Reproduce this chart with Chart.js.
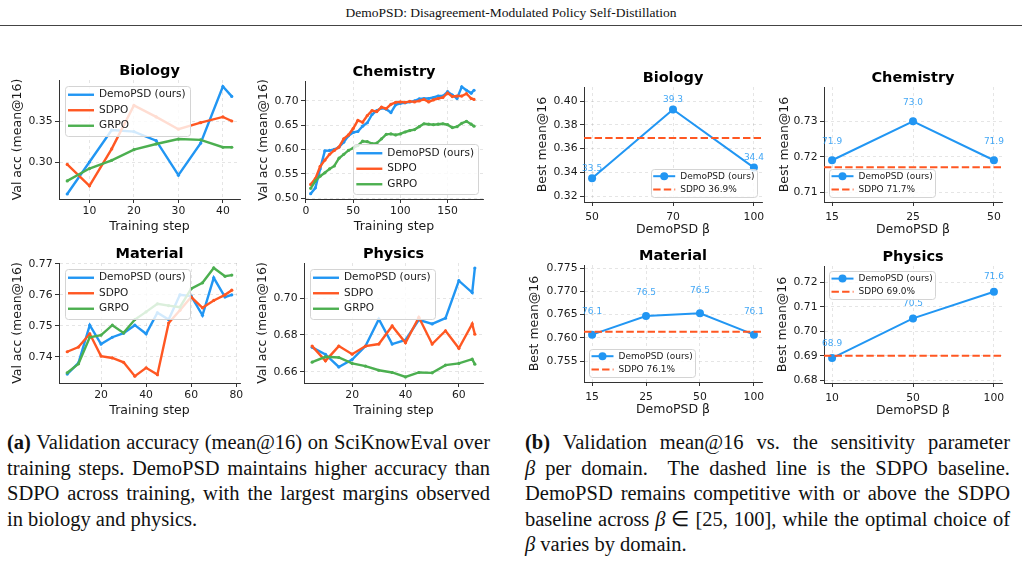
<!DOCTYPE html>
<html>
<head>
<meta charset="utf-8">
<script src="https://cdn.jsdelivr.net/npm/chart.js@4.4.1/dist/chart.umd.min.js"></script>
<style>
  html, body { margin: 0; padding: 0; background: #fff; }
  body { width: 1022px; height: 570px; position: relative; overflow: hidden; }
  canvas { position: absolute; }
  #hdr { position: absolute; left: 0; top: 5px; width: 1022px; text-align: center;
         font-family: "Liberation Serif", serif; font-size: 13.5px; color: #111; }
  #rule { position: absolute; left: 0; top: 25px; width: 1022px; height: 0; border-top: 0.8px solid #444; }
  .cap { position: absolute; top: 430px; font-family: "Liberation Serif", serif; font-size: 20.5px;
         line-height: 25.5px; color: #111; }
  .cap div { text-align: justify; text-align-last: justify; }
  .cap div.last { text-align-last: left; }
</style>
</head>
<body>
<div id="hdr">DemoPSD: Disagreement-Modulated Policy Self-Distillation</div>
<div id="rule"></div>

<div class="cap" style="left:7px;width:483px">
  <div><b>(a)</b> Validation accuracy (mean@16) on SciKnowEval over</div>
  <div>training steps. DemoPSD maintains higher accuracy than</div>
  <div>SDPO across training, with the largest margins observed</div>
  <div class="last">in biology and physics.</div>
</div>
<div class="cap" style="left:525px;width:485px">
  <div><b>(b)</b> Validation mean@16 vs. the sensitivity parameter</div>
  <div><i>β</i> per domain.&nbsp; The dashed line is the SDPO baseline.</div>
  <div>DemoPSD remains competitive with or above the SDPO</div>
  <div>baseline across <i>β</i> ∈ [25, 100], while the optimal choice of</div>
  <div class="last"><i>β</i> varies by domain.</div>
</div>

<script>
// ---- (a) validation accuracy vs training step ----
const bioSteps = [5, 10, 15, 20, 25, 30, 35, 40, 42];
const bioDemo  = [0.261, 0.300, 0.339, 0.337, 0.326, 0.284, 0.323, 0.392, 0.380];
const bioSdpo  = [0.297, 0.271, 0.316, 0.369, 0.355, 0.340, 0.348, 0.355, 0.350];
const bioGrpo  = [0.277, 0.292, 0.302, 0.315, 0.322, 0.328, 0.327, 0.318, 0.318];

const chemSteps = [5, 10, 15, 20, 25, 30, 35, 40, 45, 50, 55, 60, 65, 70, 75, 80, 85, 90,
                   95, 100, 105, 110, 115, 120, 125, 130, 135, 140, 145, 150, 155, 160, 165, 170, 175, 178];
const chemDemo = [0.509, 0.521, 0.560, 0.597, 0.598, 0.600, 0.605, 0.615, 0.628, 0.635, 0.637, 0.648,
                  0.655, 0.672, 0.680, 0.685, 0.683, 0.676, 0.692, 0.695, 0.696, 0.698, 0.700, 0.704,
                  0.705, 0.705, 0.707, 0.710, 0.710, 0.719, 0.712, 0.705, 0.729, 0.722, 0.716, 0.722];
const chemSdpo = [0.528, 0.540, 0.565, 0.578, 0.590, 0.598, 0.605, 0.622, 0.630, 0.643, 0.660, 0.656,
                  0.670, 0.680, 0.678, 0.687, 0.684, 0.693, 0.697, 0.698, 0.697, 0.699, 0.698, 0.700,
                  0.703, 0.698, 0.702, 0.705, 0.707, 0.716, 0.709, 0.710, 0.710, 0.715, 0.705, 0.703];
const chemGrpo = [0.520, 0.535, 0.545, 0.552, 0.560, 0.566, 0.582, 0.590, 0.598, 0.603, 0.608, 0.617,
                  0.616, 0.612, 0.613, 0.622, 0.631, 0.632, 0.630, 0.632, 0.636, 0.639, 0.641, 0.647,
                  0.653, 0.652, 0.651, 0.652, 0.653, 0.651, 0.645, 0.647, 0.654, 0.658, 0.652, 0.648];

const matSteps = [5, 10, 15, 20, 25, 30, 35, 40, 45, 50, 55, 60, 65, 70, 75, 78];
const matDemo  = [0.7344, 0.7380, 0.7502, 0.7441, 0.7463, 0.7476, 0.7502, 0.7474,
                  0.7542, 0.7520, 0.7600, 0.7596, 0.7534, 0.7655, 0.7593, 0.7600];
const matSdpo  = [0.7416, 0.7431, 0.7474, 0.7402, 0.7396, 0.7382, 0.7337, 0.7364,
                  0.7342, 0.7509, 0.7550, 0.7593, 0.7558, 0.7582, 0.7600, 0.7615];
const matGrpo  = [0.7348, 0.7377, 0.7463, 0.7470, 0.7502, 0.7477, 0.7520, 0.7545,
                  0.7571, 0.7565, 0.7560, 0.7620, 0.7639, 0.7687, 0.7660, 0.7664];

const phySteps = [5, 10, 15, 20, 25, 30, 35, 40, 45, 50, 55, 60, 65, 66];
const phyDemo  = [0.6733, 0.6695, 0.6627, 0.6667, 0.6740, 0.6886, 0.6751, 0.6773,
                  0.6882, 0.6860, 0.6891, 0.7094, 0.7030, 0.7163];
const phySdpo  = [0.6740, 0.6660, 0.6740, 0.6696, 0.6740, 0.6751, 0.6849, 0.6758,
                  0.6896, 0.6751, 0.6823, 0.6728, 0.6860, 0.6804];
const phyGrpo  = [0.6653, 0.6682, 0.6678, 0.6646, 0.6631, 0.6609, 0.6597, 0.6573,
                  0.6597, 0.6595, 0.6637, 0.6646, 0.6669, 0.6642];

// ---- (b) best mean@16 vs beta ----
const bioBetas = ['50', '70', '100'];
const bioBest  = [0.335, 0.393, 0.344];
const bioBase  = 0.369;
const chemBetas = ['15', '25', '50'];
const chemBest  = [0.719, 0.730, 0.719];
const chemBase  = 0.717;
const matBetas = ['15', '25', '50', '100'];
const matBest  = [0.7607, 0.7647, 0.7653, 0.7607];
const matBase  = 0.7613;
const phyBetas = ['10', '50', '100'];
const phyBest  = [0.6891, 0.7053, 0.7162];
const phyBase  = 0.690;

// tick values
const bioXTicks = [10, 20, 30, 40],  bioYTicks = [0.30, 0.35];
const chemXTicks = [0, 50, 100, 150], chemYTicks = [0.50, 0.55, 0.60, 0.65, 0.70];
const matXTicks = [20, 40, 60, 80],  matYTicks = [0.74, 0.75, 0.76, 0.77];
const phyXTicks = [20, 40, 60],      phyYTicks = [0.66, 0.68, 0.70];
const bioBYTicks = [0.32, 0.34, 0.36, 0.38, 0.40];
const chemBYTicks = [0.71, 0.72, 0.73];
const matBYTicks = [0.755, 0.760, 0.765, 0.770, 0.775];
const phyBYTicks = [0.68, 0.69, 0.70, 0.71, 0.72];

const FONT = '"DejaVu Sans", sans-serif';
const BLUE = '#2196F3', ORANGE = '#FF5722', GREEN = '#4CAF50';
const TXT = '#1a1a1a', AX = '#333333', GRID = 'rgba(0,0,0,0.13)';
const YW = 60, XH = 42, PR = 14, TH = 19;

// matplotlib-like legend box inside the axes
const boxLegend = {
  id: 'boxLegend',
  afterDatasetsDraw(chart, args, o) {
    if (!o.at) return;
    const a = chart.chartArea, ctx = chart.ctx, ds = chart.data.datasets;
    ctx.save();
    ctx.font = o.size + 'px ' + FONT;
    const tw = Math.max(...ds.map(d => ctx.measureText(d.label).width));
    const w = 2 * o.padX + o.handle + o.gap + tw;
    const h = 2 * o.padY + ds.length * o.row;
    const x = o.at[1] === 'l' ? a.left + o.off : a.right - o.off - w;
    const y = o.at[0] === 'u' ? a.top + o.off : a.bottom - o.off - h;
    ctx.beginPath();
    ctx.roundRect(Math.round(x) + 0.5, Math.round(y) + 0.5, Math.round(w), Math.round(h), 3);
    ctx.fillStyle = 'rgba(255,255,255,0.8)';
    ctx.fill();
    ctx.lineWidth = 1;
    ctx.strokeStyle = '#d4d4d4';
    ctx.stroke();
    ds.forEach((d, i) => {
      const cy = y + o.padY + o.row * (i + 0.5), hx = x + o.padX;
      ctx.beginPath();
      ctx.moveTo(hx, cy);
      ctx.lineTo(hx + o.handle, cy);
      ctx.setLineDash(d.borderDash || []);
      ctx.lineWidth = d.borderWidth;
      ctx.strokeStyle = d.borderColor;
      ctx.stroke();
      ctx.setLineDash([]);
      if (d.pointRadius > 2) {
        ctx.beginPath();
        ctx.arc(hx + o.handle / 2, cy, d.pointRadius, 0, Math.PI * 2);
        ctx.fillStyle = d.borderColor;
        ctx.fill();
      }
      ctx.fillStyle = TXT;
      ctx.textBaseline = 'middle';
      ctx.textAlign = 'left';
      ctx.fillText(d.label, hx + o.handle + o.gap, cy);
    });
    ctx.restore();
  }
};

// value labels above the beta points
const pointLabels = {
  id: 'pointLabels',
  afterDatasetsDraw(chart, args, o) {
    if (!o.dy) return;
    const ctx = chart.ctx, meta = chart.getDatasetMeta(0), vals = chart.data.datasets[0].data;
    ctx.save();
    ctx.font = '9px ' + FONT;
    ctx.fillStyle = 'rgba(33,150,243,0.85)';
    ctx.textAlign = 'center';
    ctx.textBaseline = 'middle';
    meta.data.forEach((p, i) => ctx.fillText((vals[i].y * 100).toFixed(1), p.x, p.y - o.dy));
    ctx.restore();
  }
};

function series(label, xs, ys, color, order) {
  return {
    label, order, data: xs.map((x, i) => ({x, y: ys[i]})),
    borderColor: color, backgroundColor: color, borderWidth: 2.4,
    pointRadius: 1.6, pointBorderWidth: 0, pointHoverRadius: 0, tension: 0
  };
}

function betaSeries(vals, base, xMin, xMax) {
  return [
    { label: 'DemoPSD (ours)', order: 2, data: vals.map((v, i) => ({x: i, y: v})),
      borderColor: BLUE, backgroundColor: BLUE, borderWidth: 2,
      pointRadius: 4, pointBorderWidth: 0, pointHoverRadius: 0, tension: 0 },
    { label: 'SDPO ' + (base * 100).toFixed(1) + '%', order: 1,
      data: [{x: xMin, y: base}, {x: xMax, y: base}],
      borderColor: ORANGE, borderWidth: 2, borderDash: [7.4, 3.2], pointRadius: 0, tension: 0 }
  ];
}

function makeChart(area, o) {
  const [l, t, r, b] = area;
  const cv = document.createElement('canvas');
  cv.width = r - l + YW + PR;
  cv.height = b - t + TH + XH;
  cv.style.left = (l - YW) + 'px';
  cv.style.top = (t - TH) + 'px';
  document.body.appendChild(cv);
  const grid = { color: GRID, lineWidth: 0.8, tickLength: 4, tickColor: AX, tickWidth: 1 };
  const border = { color: AX, width: 1, dash: [3, 3] };
  const tickFont = { family: FONT, size: 10.8 };
  const titleFont = { family: FONT, size: 12.5 };
  return new Chart(cv, {
    type: 'line',
    data: { datasets: o.datasets },
    plugins: [pointLabels, boxLegend],
    options: {
      responsive: false, animation: false, events: [],
      layout: { padding: { left: 0, right: PR, top: 0, bottom: 0 } },
      plugins: {
        legend: { display: false },
        tooltip: { enabled: false },
        title: { display: true, text: o.title, fullSize: false, color: '#000',
                 font: { family: FONT, size: 14.5, weight: 'bold' }, padding: { top: 1.6, bottom: 0 } },
        boxLegend: o.legend,
        pointLabels: o.labels || {}
      },
      scales: {
        x: {
          type: 'linear', min: o.xMin, max: o.xMax,
          afterFit: s => { s.height = XH; },
          afterBuildTicks: s => { s.ticks = o.xTicks.map(v => ({value: v})); },
          ticks: { callback: o.xFmt, font: tickFont, color: TXT, padding: o.xPad,
                   maxRotation: 0, autoSkip: false },
          grid, border,
          title: { display: true, text: o.xTitle, font: titleFont, color: TXT,
                   padding: { top: 0, bottom: XH - 28 - 7.5 } }
        },
        y: {
          type: 'linear', min: o.yMin, max: o.yMax,
          afterFit: s => { s.width = YW; },
          afterBuildTicks: s => { s.ticks = o.yTicks.map(v => ({value: v})); },
          ticks: { callback: v => v.toFixed(o.yDec), font: tickFont, color: TXT, padding: 2.5, autoSkip: false },
          grid, border,
          title: { display: true, text: o.yTitle, font: titleFont, color: TXT,
                   padding: { top: YW - o.yOff - 7.5, bottom: 0 } }
        }
      }
    }
  });
}

const legA = (at) => ({ at, size: 10.5, padX: 3.5, padY: 1.5, row: 15.5, handle: 26, gap: 5, off: 5.5 });
const legB = (at) => ({ at, size: 9, padX: 2.5, padY: 1, row: 13.2, handle: 22, gap: 5, off: 5 });
const num = v => String(v);

function trio(xs, d, s, g) {
  return [series('DemoPSD (ours)', xs, d, BLUE, 3), series('SDPO', xs, s, ORANGE, 2), series('GRPO', xs, g, GREEN, 1)];
}

// (a) panels
makeChart([59, 80, 240, 199], {
  title: 'Biology', datasets: trio(bioSteps, bioDemo, bioSdpo, bioGrpo),
  xMin: 3.15, xMax: 43.85, yMin: 0.2549, yMax: 0.40, xTicks: bioXTicks, yTicks: bioYTicks,
  xFmt: num, yDec: 2, xPad: 2, yOff: 41,
  xTitle: 'Training step', yTitle: 'Val acc (mean@16)', legend: legA('ul')
});
makeChart([305, 81, 483, 199], {
  title: 'Chemistry', datasets: trio(chemSteps, chemDemo, chemSdpo, chemGrpo),
  xMin: -1, xMax: 187.5, yMin: 0.498, yMax: 0.741, xTicks: chemXTicks, yTicks: chemYTicks,
  xFmt: num, yDec: 2, xPad: 2, yOff: 41.5,
  xTitle: 'Training step', yTitle: 'Val acc (mean@16)', legend: legA('lr')
});
makeChart([59, 263, 240, 383], {
  title: 'Material', datasets: trio(matSteps, matDemo, matSdpo, matGrpo),
  xMin: 1.35, xMax: 81.65, yMin: 0.7315, yMax: 0.7703, xTicks: matXTicks, yTicks: matYTicks,
  xFmt: num, yDec: 2, xPad: 2, yOff: 41,
  xTitle: 'Training step', yTitle: 'Val acc (mean@16)', legend: legA('ul')
});
makeChart([304, 263, 483, 383], {
  title: 'Physics', datasets: trio(phySteps, phyDemo, phySdpo, phyGrpo),
  xMin: 1.95, xMax: 69.05, yMin: 0.654, yMax: 0.719, xTicks: phyXTicks, yTicks: phyYTicks,
  xFmt: num, yDec: 2, xPad: 2, yOff: 41,
  xTitle: 'Training step', yTitle: 'Val acc (mean@16)', legend: legA('ul')
});

// (b) panels
function betaChart(area, title, betas, best, base, yMin, yMax, yTicks, yDec, yOff, at, dy) {
  const xMin = -0.05 * (betas.length - 1), xMax = (betas.length - 1) * 1.05;
  makeChart(area, {
    title, datasets: betaSeries(best, base, xMin, xMax),
    xMin, xMax, yMin, yMax, xTicks: betas.map((_, i) => i), yTicks,
    xFmt: v => betas[v], yDec, xPad: 4.4, yOff,
    xTitle: 'DemoPSD β', yTitle: 'Best mean@16', legend: legB(at), labels: { dy }
  });
}
betaChart([584, 87, 762, 202], 'Biology', bioBetas, bioBest, bioBase, 0.315, 0.412, bioBYTicks, 2, 41, 'lr', 10);
betaChart([824, 87, 1002, 202], 'Chemistry', chemBetas, chemBest, chemBase, 0.7072, 0.7397, chemBYTicks, 2, 39.5, 'll', 19);
betaChart([584, 265, 762, 382], 'Material', matBetas, matBest, matBase, 0.7505, 0.7757, matBYTicks, 3, 49, 'll', 23);
betaChart([824, 266, 1002, 383], 'Physics', phyBetas, phyBest, phyBase, 0.6789, 0.7267, phyBYTicks, 2, 41, 'ul', 14.7);
</script>
</body>
</html>
